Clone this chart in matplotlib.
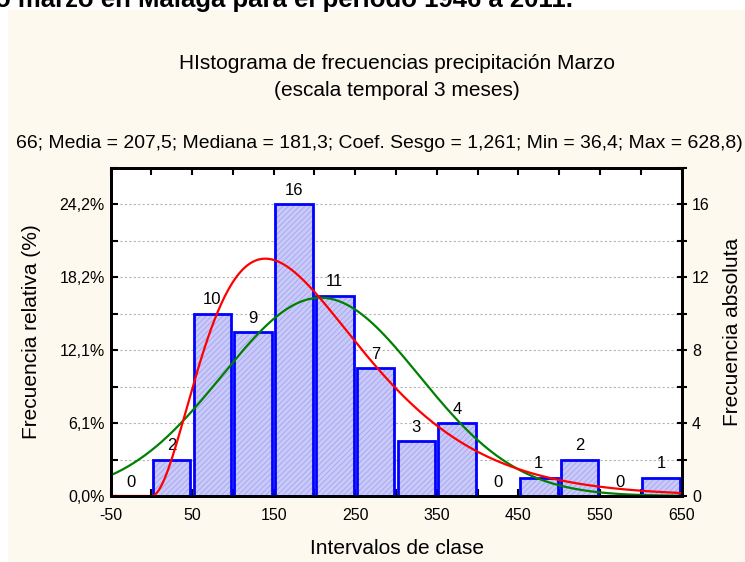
import math
import numpy as np
import matplotlib.pyplot as plt
from matplotlib.patches import Rectangle

# histogram data (class intervals of width 50)
bin_left = [-50, 0, 50, 100, 150, 200, 250, 300, 350, 400, 450, 500, 550, 600]
counts = [0, 2, 10, 9, 16, 11, 7, 3, 4, 0, 1, 2, 0, 1]
n_total = 66
bin_width = 50

# fitted curves (normal and gamma)
normal_mean = 207.5
normal_sd = 121.0
gamma_shape = 3.07
gamma_scale = 67.5

xtick_vals = [-50, 50, 150, 250, 350, 450, 550, 650]
count_ticks = [0, 4, 8, 12, 16]

heading = "o marzo en Málaga para el período 1946 a 2011."
title = "HIstograma de frecuencias precipitación Marzo\n(escala temporal 3 meses)"
stats = "66; Media = 207,5; Mediana = 181,3; Coef. Sesgo = 1,261; Min = 36,4; Max = 628,8)"

plt.rcParams['font.family'] = ['Liberation Sans', 'DejaVu Sans']
plt.rcParams['axes.unicode_minus'] = False

W, H = 745, 562
cream = '#fef9ef'


def px(x, y):
    return x / W, 1 - y / H


fig = plt.figure(figsize=(W / 100, H / 100), dpi=100)
fig.patches.append(Rectangle(px(8, H), 1, 1 - 10 / H, transform=fig.transFigure,
                             facecolor=cream, edgecolor='none', zorder=-10))

fig.text(*px(-5, 7.5), heading, fontsize=18.5, fontweight='bold', ha='left', va='baseline')
fig.text(*px(397, 77), title, fontsize=15, ha='center', va='center', linespacing=1.55)
fig.text(*px(743, 143), stats, fontsize=13.95, ha='right', va='center')

l, r, t, b = 110.5, 681.5, 168, 496
ax = fig.add_axes([l / W, 1 - b / H, (r - l) / W, (b - t) / H])
ax.set_facecolor('white')

# grid
for g in range(2, 17, 2):
    ax.axhline(g, color='#b4b4b4', lw=0.8, ls=(0, (2, 2)), zorder=0)

# bars: hatched fill + blue outline
plt.rcParams['hatch.linewidth'] = 0.6
xs = [v + 2 for v in bin_left]
ax.bar(xs, counts, width=46, align='edge', facecolor='#cacafa', edgecolor='#a4a4ee',
       linewidth=0, hatch='//////', zorder=2)
ax.bar(xs, counts, width=46, align='edge', facecolor='none', edgecolor='#0000ff',
       linewidth=2, zorder=3)

for x0, c in zip(bin_left, counts):
    ax.annotate(str(c), (x0 + bin_width / 2, c), xytext=(0, 10), textcoords='offset points',
                ha='center', va='center', fontsize=12)

# fitted curves, scaled to counts
xc = np.linspace(-50, 650, 500)
scale = n_total * bin_width
norm_y = scale * np.exp(-0.5 * ((xc - normal_mean) / normal_sd) ** 2) / (normal_sd * math.sqrt(2 * math.pi))
xp = np.clip(xc, 1e-9, None)
gam_y = scale * xp ** (gamma_shape - 1) * np.exp(-xp / gamma_scale) / (math.gamma(gamma_shape) * gamma_scale ** gamma_shape)
gam_y[xc <= 0] = 0
ax.plot(xc, norm_y, color='#008000', lw=1.6, zorder=4)
ax.plot(xc, gam_y, color='#ff0000', lw=1.6, zorder=5)

ax.set_xlim(-50, 650)
ax.set_ylim(0, 18)
ax.set_xticks(xtick_vals)
ax.set_xticks(range(-50, 651, 50), minor=True)
ax.set_yticks(count_ticks)
ax.set_yticklabels([f"{c / n_total * 100:.1f}".replace('.', ',') + '%' for c in count_ticks])
ax.set_yticks(range(0, 19, 2), minor=True)
ax.tick_params(axis='both', which='both', direction='in', length=5, width=1.5,
               top=True, labelsize=11.5)
ax.tick_params(axis='x', pad=9)
ax.tick_params(axis='y', pad=4)
for s in ax.spines.values():
    s.set_linewidth(2)

ax2 = ax.twinx()
ax2.set_ylim(0, 18)
ax2.set_yticks(count_ticks)
ax2.set_yticks(range(0, 19, 2), minor=True)
ax2.tick_params(axis='y', which='both', direction='inout', length=7, width=1.5, labelsize=11.5, pad=4)
for s in ax2.spines.values():
    s.set_linewidth(2)

fig.text(*px(32, 332), "Frecuencia relativa (%)", fontsize=15, rotation=90, ha='center', va='center')
fig.text(*px(732, 332), "Frecuencia absoluta", fontsize=15, rotation=90, ha='center', va='center')
fig.text(*px(397, 548), "Intervalos de clase", fontsize=15, ha='center', va='center')

fig.savefig('out.png', dpi=100)
